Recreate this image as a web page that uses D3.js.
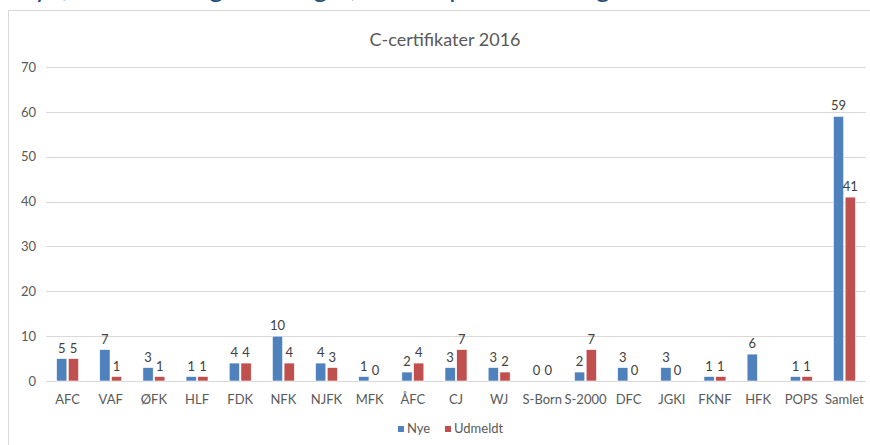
<!DOCTYPE html>
<html>
<head>
<meta charset="utf-8">
<script src="https://cdn.jsdelivr.net/npm/d3@7"></script>
<style>
  body { margin: 0; background: #fff; overflow: hidden; }
  svg { display: block; }
  text { font-family: Lato, "Open Sans", sans-serif; }
</style>
</head>
<body>
<script>
// chart data
var categories = ["AFC","VAF","ØFK","HLF","FDK","NFK","NJFK","MFK","ÅFC","CJ","WJ","S-Born","S-2000","DFC","JGKI","FKNF","HFK","POPS","Samlet"];
var nye      = [5, 7, 3, 1, 4, 10, 4, 1, 2, 3, 3, 0, 2, 3, 3, 1, 6, 1, 59];
var udmeldt  = [5, 1, 1, 1, 4, 4, 3, 0, 4, 7, 2, 0, 7, 0, 0, 1, null, 1, 41];
var seriesNames = ["Nye", "Udmeldt"];
var yTicks = [0, 10, 20, 30, 40, 50, 60, 70];

var width = 870, height = 445;
var margin = {top: 67, right: 4, bottom: 64, left: 46};

var svg = d3.select("body").append("svg")
  .attr("width", width)
  .attr("height", height);

// heading of the page above the chart, cut off at the top
svg.append("text")
  .attr("x", 14)
  .attr("y", -3)
  .style("font-size", "27px")
  .style("fill", "#1f4e79")
  .text("Nye, udmeldte og ændringer, fordelt på klubber og i alt");

// chart frame
svg.append("rect")
  .attr("x", 8.5).attr("y", 10.5)
  .attr("width", width).attr("height", height)
  .attr("fill", "#fff")
  .attr("stroke", "#d9d9d9");

svg.append("text")
  .attr("x", 445).attr("y", 46)
  .attr("text-anchor", "middle")
  .style("font-size", "18px")
  .style("fill", "#595959")
  .text("C-certifikater 2016");

var x = d3.scaleBand()
  .domain(categories)
  .range([margin.left, width - margin.right]);

// the two bars sit together in the middle of each band
var x1 = d3.scaleBand()
  .domain(seriesNames)
  .range([x.bandwidth() / 2 - 11, x.bandwidth() / 2 + 11])
  .paddingInner(0.12);

var y = d3.scaleLinear()
  .domain([0, 70])
  .range([height - margin.bottom, margin.top]);

var color = d3.scaleOrdinal().domain(seriesNames).range(["#4f81bd", "#c0504d"]);

// gridlines
svg.append("g").selectAll("line")
  .data(yTicks)
  .enter().append("line")
  .attr("x1", margin.left).attr("x2", width - margin.right)
  .attr("y1", d => Math.round(y(d)) + 0.5)
  .attr("y2", d => Math.round(y(d)) + 0.5)
  .attr("stroke", "#d9d9d9");

// y axis labels
var yAxis = svg.append("g")
  .attr("transform", "translate(" + (margin.left - 10) + ",0)")
  .call(d3.axisLeft(y).tickValues(yTicks).tickSize(0).tickPadding(0));
yAxis.select(".domain").remove();
yAxis.selectAll("text").style("font-size", "13px").style("fill", "#595959").style("font-family", "Lato, sans-serif");

// x axis labels
var xAxis = svg.append("g")
  .attr("transform", "translate(0," + (height - margin.bottom) + ")")
  .call(d3.axisBottom(x).tickSize(0).tickPadding(14));
xAxis.select(".domain").remove();
xAxis.selectAll("text").style("font-size", "13px").style("fill", "#595959").style("font-family", "Lato, sans-serif");

var rows = categories.map(function(c, i) {
  return {cat: c, values: [{s: "Nye", v: nye[i]}, {s: "Udmeldt", v: udmeldt[i]}]};
});

var groups = svg.append("g").selectAll("g")
  .data(rows)
  .enter().append("g")
  .attr("transform", d => "translate(" + x(d.cat) + ",0)");

groups.selectAll("rect")
  .data(d => d.values.filter(v => v.v !== null))
  .enter().append("rect")
  .attr("x", d => x1(d.s))
  .attr("width", x1.bandwidth())
  .attr("y", d => y(d.v))
  .attr("height", d => y(0) - y(d.v))
  .attr("fill", d => color(d.s))
  .attr("stroke", "#fff")
  .attr("stroke-width", 0.6);

groups.selectAll("text.val")
  .data(d => d.values.filter(v => v.v !== null))
  .enter().append("text")
  .attr("class", "val")
  .attr("x", d => x1(d.s) + x1.bandwidth() / 2)
  .attr("y", d => y(d.v) - 6)
  .attr("text-anchor", "middle")
  .style("font-size", "13px")
  .style("fill", "#404040")
  .text(d => d.v);

// legend
var legend = svg.append("g").selectAll("g")
  .data(seriesNames)
  .enter().append("g")
  .attr("transform", (d, i) => "translate(" + [398, 445][i] + ",430)");

legend.append("rect")
  .attr("x", 0).attr("y", -4)
  .attr("width", 6).attr("height", 6)
  .attr("fill", d => color(d));

legend.append("text")
  .attr("x", 9).attr("y", 3)
  .style("font-size", "13px")
  .style("fill", "#595959")
  .text(d => d);
</script>
</body>
</html>
